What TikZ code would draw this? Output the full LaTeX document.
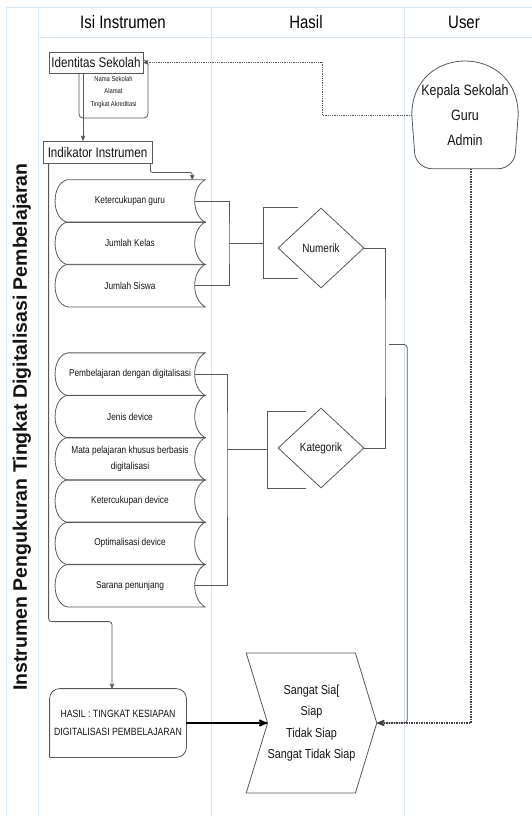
\documentclass[tikz,border=0pt]{standalone}
\usepackage{fontspec}
\setmainfont{Liberation Sans}[FakeStretch=0.83]
\newfontfamily\poolfont{Liberation Sans}
\usetikzlibrary{calc, arrows, shapes, positioning}
\definecolor{lane}{RGB}{214,229,246}
\definecolor{ink}{RGB}{88,88,88}
\tikzset{>=stealth', font=\fontsize{10}{12}\selectfont}

\begin{document}
\begin{tikzpicture}[x=1pt,y=-1pt,text=black!92]
\tikzstyle{line}=[draw=ink, line width=0.8pt]
\tikzstyle{lanes}=[draw=lane, line width=0.9pt]
\tikzstyle{title}=[font=\fontsize{18}{20}\selectfont, text=black]
\tikzstyle{box}=[line, fill=white, inner sep=1pt, font=\fontsize{14}{16}\selectfont]
\tikzstyle{item}=[minimum width=150, minimum height=42.3, align=center, inner sep=0pt]
\tikzstyle{choice}=[diamond, line, minimum width=86, minimum height=80, inner sep=0pt,
                    font=\fontsize{12}{14}\selectfont]
\tikzstyle{dots}=[draw=ink, line width=0.8pt, densely dotted]
\tikzstyle{heavy dots}=[draw=black!75, line width=1.5pt, densely dotted]

\useasboundingbox (0,0) rectangle (532,816);

% swimlanes
\draw[lanes] (6,816) -- (6,7) -- (532,7);
\draw[lanes] (38,7) -- (38,816);
\draw[lanes] (211,7) -- (211,816);
\draw[lanes] (404,7) -- (404,816);
\draw[lanes] (38,37) -- (532,37);

\node[title] (t1) at (123,22) {Isi Instrumen};
\node[title] (t2) at (306,22) {Hasil};
\node[title] (t3) at (464,22) {User};
\node[rotate=90, font=\poolfont\bfseries\fontsize{19.5}{21}\selectfont] (pool) at (22,427)
  {Instrumen Pengukuran Tingkat Digitalisasi Pembelajaran};

% identitas
\node[line, rounded corners=4pt, minimum width=69, minimum height=58, inner sep=0pt,
      align=center, font=\fontsize{7}{12.5}\selectfont] (idnote) at (113.5,89)
  {\\[-2pt]Nama Sekolah\\Alamat\\Tingkat Akreditasi};
\node[box, minimum width=94, minimum height=21] (idsek) at (96,62.5) {Identitas Sekolah};
\node[box, minimum width=109, minimum height=22] (indi) at (97.5,152) {Indikator Instrumen};

\draw[line,->] ([xshift=-13pt]idsek.south) -- ([xshift=-14.5pt]indi.north);

% indikator
\node[item] (k1) at (130,201) {Ketercukupan guru};
\node[item] (k2) at (130,243.3) {Jumlah Kelas};
\node[item] (k3) at (130,285.6) {Jumlah Siswa};

\node[item] (p1) at (130,374.2) {Pembelajaran dengan digitalisasi};
\node[item] (p2) at (130,416.5) {Jenis device};
\node[item, font=\fontsize{10}{16}\selectfont] (p3) at (130,458.8)
  {Mata pelajaran khusus berbasis\\digitalisasi};
\node[item] (p4) at (130,501.1) {Ketercukupan device};
\node[item] (p5) at (130,543.4) {Optimalisasi device};
\node[item] (p6) at (130,585.7) {Sarana penunjang};

\foreach \n in {k1,k2,k3,p1,p2,p3,p4,p5,p6}
  \draw[line] ([xshift=13pt]\n.north west) -- (\n.north east)
    .. controls ([xshift=-14pt,yshift=-8pt]\n.north east) and ([xshift=-14pt,yshift=8pt]\n.south east) .. (\n.south east)
    -- ([xshift=13pt]\n.south west)
    .. controls ([xshift=-4pt,yshift=3pt]\n.south west) and ([xshift=-4pt,yshift=-3pt]\n.north west) .. ([xshift=13pt]\n.north west);

\draw[line,->,rounded corners=2pt] ([xshift=-2pt]indi.south east) -- ++(0,9) -| ([xshift=-13pt]k1.north east);

% hasil
\node[choice] (num) at (321,248) {Numerik};
\node[choice] (kat) at (321,448) {Kategorik};

\coordinate (nj) at (229,243);
\coordinate (nbr) at (263,243);
\coordinate (kj) at (227,449.5);
\coordinate (kbr) at (267,449.5);
\coordinate (dj) at (385,347.5);

\draw[line] ([xshift=-10pt]k1.east) -| (nj) |- ([xshift=-10pt]k3.east);
\draw[line] (nj) -- (nbr);
\draw[line] ([xshift=35pt,yshift=35.5pt]nbr) -- ([yshift=35.5pt]nbr) -- ([yshift=-35.5pt]nbr) -- ([xshift=35pt,yshift=-35.5pt]nbr);

\draw[line] ([xshift=-10pt]p1.east) -| (kj) |- ([xshift=-10pt]p6.east);
\draw[line] (kj) -- (kbr);
\draw[line] ([xshift=39pt,yshift=38.5pt]kbr) -- ([yshift=38.5pt]kbr) -- ([yshift=-38.5pt]kbr) -- ([xshift=39pt,yshift=-38.5pt]kbr);

\draw[line] (num.east) -| (dj) |- (kat.east);

\node[box, minimum width=136, minimum height=68, draw=none, align=center,
      font=\fontsize{10.5}{18}\selectfont] (hasil) at (118,723)
  {HASIL : TINGKAT KESIAPAN\\DIGITALISASI PEMBELAJARAN};
\draw[line, rounded corners=10pt] (hasil.south west) -- (hasil.north west) -- (hasil.north east)
  -- (hasil.south east) -- (hasil.south west);

\node[line, signal, signal from=west, signal to=east, signal pointer angle=146,
      minimum width=123, minimum height=140, inner sep=0pt, align=center,
      font=\fontsize{13}{21.5}\selectfont] (sg) at (311.5,723)
  {Sangat Sia[\\Siap\\Tidak Siap\\Sangat Tidak Siap};

\draw[line,->,rounded corners=3pt] ([xshift=6pt]indi.south west) |- ([xshift=-6pt,yshift=67pt]hasil.north)
  -- ([xshift=-6pt]hasil.north);
\draw[draw=black, line width=1.8pt, ->] (hasil.east) -- (sg.west);
\draw[line,->,rounded corners=3pt] ([xshift=4pt,yshift=3pt]dj) -| ([xshift=30pt]sg.east) -- (sg.east);

% user
\node[align=center, minimum width=106, minimum height=107,
      font=\fontsize{15}{25}\selectfont] (user) at (465,115) {Kepala Sekolah\\Guru\\Admin};
\draw[line] (user.west) .. controls ([yshift=72pt]user.west) and ([yshift=72pt]user.east) .. (user.east)
  [rounded corners=16pt] -- ([xshift=-4pt]user.south east) -- ([xshift=4pt]user.south west) -- (user.west);

\coordinate (dt) at (322,90);
\draw[dots,->] (user.west) -| (dt) |- (idsek.east);
\draw[heavy dots,->] ([xshift=6pt]user.south) |- (sg.east);

\end{tikzpicture}
\end{document}
